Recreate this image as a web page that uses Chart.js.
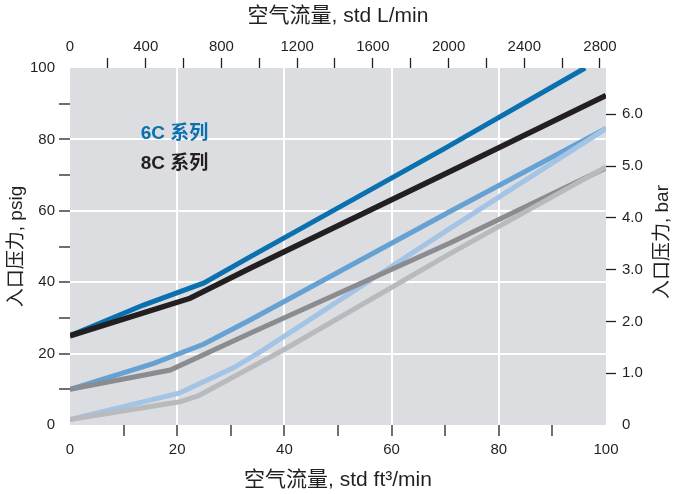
<!DOCTYPE html>
<html>
<head>
<meta charset="utf-8">
<script src="https://cdn.jsdelivr.net/npm/chart.js@4.4.1/dist/chart.umd.min.js"></script>
<style>
    html, body { margin: 0; padding: 0; background: #fff; }
</style>
</head>
<body>
<canvas id="graficoFluxo" width="679" height="494"></canvas>
<script>
// leituras do gráfico: vazão (std ft3/min) x pressão de entrada (psig)
const serie6cAltaX = [0, 13.7, 25, 33.6, 69.6, 96.1];
const serie6cAltaY = [25, 33.6, 39.8, 47.1, 77.2, 100];
const serie8cAltaX = [0, 22.4, 33.6, 70.9, 100];
const serie8cAltaY = [25, 35.5, 43.9, 71, 92.3];
const serie6cMediaX = [0, 15.5, 24.9, 33.6, 70.9, 100];
const serie6cMediaY = [10, 17.2, 22.6, 29.4, 59.8, 83.1];
const serie8cMediaX = [0, 18.7, 33.6, 70.9, 100];
const serie8cMediaY = [10, 15.4, 25.7, 51, 72];
const serie6cBaixaX = [0, 20.5, 30.5, 36, 70.9, 100];
const serie6cBaixaY = [1.5, 9, 16, 21, 55.1, 83];
const serie8cBaixaX = [0, 20.5, 24, 39.8, 70.9, 100];
const serie8cBaixaY = [1.5, 6.5, 8.2, 21, 48, 72.3];

const ticksLmin = [0, 200, 400, 600, 800, 1000, 1200, 1400, 1600, 1800, 2000, 2200, 2400, 2600, 2800];
const ticksBar = [0, 1, 2, 3, 4, 5, 6];
const rotulosSerie = ["6C 系列", "8C 系列"];

const corTexto = "#231f20";
const fonte = "'Liberation Sans', Arial, 'Noto Sans CJK SC', sans-serif";
const transparente = "rgba(0,0,0,0)";

function pontos(xs, ys) {
    return xs.map((x, i) => ({ x: x, y: ys[i] }));
}

function linha(xs, ys, cor, largura) {
    return {
        data: pontos(xs, ys),
        borderColor: cor,
        borderWidth: largura,
        pointRadius: 0,
        tension: 0,
        fill: false,
    };
}

// primeiro dataset fica por cima
const datasets = [
    linha(serie8cBaixaX, serie8cBaixaY, "#b9babd", 5),
    linha(serie8cAltaX, serie8cAltaY, "#231f20", 5.5),
    linha(serie8cMediaX, serie8cMediaY, "#8b8c8f", 5),
    linha(serie6cBaixaX, serie6cBaixaY, "#a3c4e4", 5),
    linha(serie6cMediaX, serie6cMediaY, "#65a1d3", 5),
    linha(serie6cAltaX, serie6cAltaY, "#0a70b0", 5),
];

const fundoEtextos = {
    id: "fundoEtextos",
    beforeDraw(chart) {
        const { ctx, chartArea: a } = chart;
        ctx.save();
        ctx.fillStyle = "#dcdde0";
        ctx.fillRect(a.left, a.top, a.right - a.left, a.bottom - a.top);
        ctx.restore();
    },
    afterDraw(chart) {
        const { ctx, scales } = chart;
        ctx.save();
        ctx.fillStyle = corTexto;
        ctx.font = "19px " + fonte;
        ctx.textAlign = "center";
        ctx.textBaseline = "middle";
        ctx.translate(663, 242);
        ctx.rotate(-Math.PI / 2);
        ctx.fillText("入口压力, bar", 0, 0);
        ctx.restore();

        ctx.save();
        ctx.font = "bold 19px " + fonte;
        ctx.textAlign = "left";
        ctx.textBaseline = "middle";
        const x0 = scales.x.getPixelForValue(13.2);
        ctx.fillStyle = "#0a70b0";
        ctx.fillText(rotulosSerie[0], x0, scales.y.getPixelForValue(81.7));
        ctx.fillStyle = corTexto;
        ctx.fillText(rotulosSerie[1], x0, scales.y.getPixelForValue(73.3));
        ctx.restore();
    },
};

const fonteTick = { family: fonte, size: 15 };
const fonteTitulo = { family: fonte, size: 21 };
const fonteTituloY = { family: fonte, size: 19 };

const ctx = document.getElementById("graficoFluxo");
new Chart(ctx, {
    type: "line",
    data: { datasets },
    plugins: [fundoEtextos],
    options: {
        responsive: false,
        devicePixelRatio: 1,
        animation: false,
        layout: { padding: 0 },
        plugins: { legend: { display: false }, tooltip: { enabled: false } },
        scales: {
            x: {
                type: "linear",
                position: "bottom",
                min: 0,
                max: 100,
                border: { display: false },
                ticks: {
                    stepSize: 10,
                    autoSkip: false,
                    maxRotation: 0,
                    padding: 5,
                    color: corTexto,
                    font: fonteTick,
                    callback: (v) => (v % 20 === 0 ? v : ""),
                },
                grid: {
                    color: (c) => (c.tick && c.tick.value % 20 === 0 && c.tick.value > 0 && c.tick.value < 100 ? "#ffffff" : transparente),
                    lineWidth: 2,
                    tickColor: (c) => (c.tick && c.tick.value > 0 && c.tick.value < 100 ? corTexto : transparente),
                    tickLength: 11,
                    tickWidth: 1.3,
                },
                title: {
                    display: true,
                    text: "空气流量, std ft³/min",
                    color: corTexto,
                    font: fonteTitulo,
                    padding: { top: 0, bottom: 1 },
                },
                afterFit: (s) => { s.height = 69; },
            },
            x2: {
                type: "linear",
                position: "top",
                min: 0,
                max: 2831.7,
                border: { display: false },
                afterBuildTicks: (s) => { s.ticks = ticksLmin.map((v) => ({ value: v })); },
                ticks: {
                    autoSkip: false,
                    maxRotation: 0,
                    padding: 2,
                    color: corTexto,
                    font: fonteTick,
                    callback: (v) => (v % 400 === 0 ? v : ""),
                },
                grid: {
                    drawOnChartArea: false,
                    tickColor: (c) => (c.tick && c.tick.value > 0 ? corTexto : transparente),
                    tickLength: 10,
                    tickWidth: 1.3,
                },
                title: {
                    display: true,
                    text: "空气流量, std L/min",
                    color: corTexto,
                    font: fonteTitulo,
                    padding: { top: 4, bottom: 0 },
                },
                afterFit: (s) => { s.height = 68; },
            },
            y: {
                type: "linear",
                position: "left",
                min: 0,
                max: 100,
                border: { display: false },
                ticks: {
                    stepSize: 10,
                    autoSkip: false,
                    padding: 4,
                    color: corTexto,
                    font: fonteTick,
                    callback: (v) => (v % 20 === 0 ? v : ""),
                },
                grid: {
                    color: (c) => (c.tick && c.tick.value % 20 === 0 && c.tick.value > 0 && c.tick.value < 100 ? "#ffffff" : transparente),
                    lineWidth: 2,
                    tickColor: (c) => (c.tick && c.tick.value > 0 && c.tick.value < 100 ? corTexto : transparente),
                    tickLength: 11,
                    tickWidth: 1.3,
                },
                title: {
                    display: true,
                    text: "入口压力, psig",
                    color: corTexto,
                    font: fonteTituloY,
                    padding: { top: 5, bottom: 0 },
                },
                afterFit: (s) => { s.width = 70; },
            },
            y2: {
                type: "linear",
                position: "right",
                min: 0,
                max: 100 / 14.5038,
                border: { display: false },
                afterBuildTicks: (s) => { s.ticks = ticksBar.map((v) => ({ value: v })); },
                ticks: {
                    autoSkip: false,
                    padding: 6,
                    color: corTexto,
                    font: fonteTick,
                    callback: (v) => (v === 0 ? "0" : v.toFixed(1)),
                },
                grid: {
                    drawOnChartArea: false,
                    tickColor: (c) => (c.tick && c.tick.value > 0 ? corTexto : transparente),
                    tickLength: 10,
                    tickWidth: 1.3,
                },
                afterFit: (s) => { s.width = 73; },
            },
        },
    },
});
</script>
</body>
</html>
